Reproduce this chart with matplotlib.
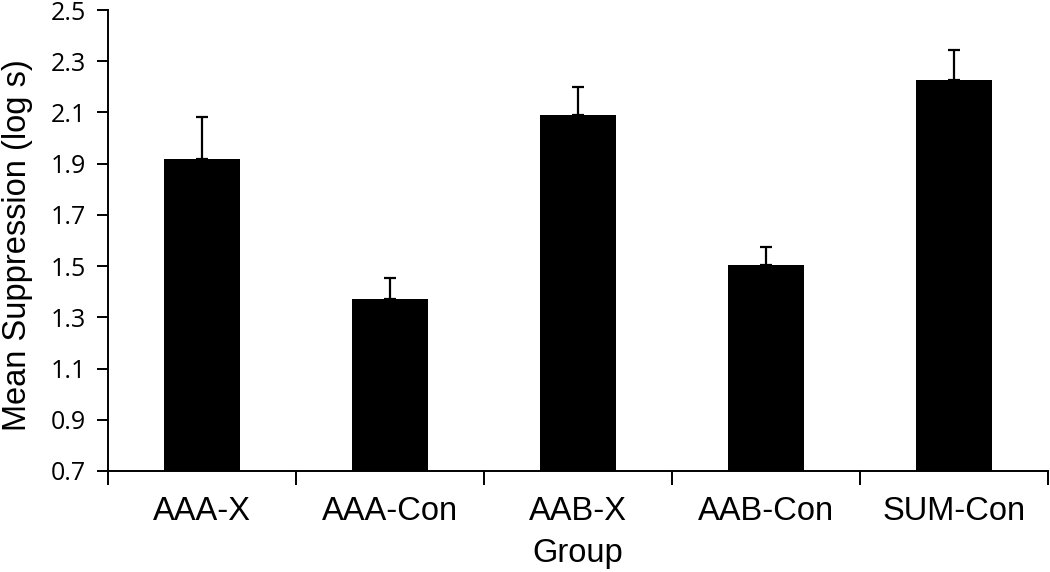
import numpy as np
import matplotlib.pyplot as plt

groups = ['AAA-X', 'AAA-Con', 'AAB-X', 'AAB-Con', 'SUM-Con']
means = [1.917, 1.370, 2.090, 1.505, 2.228]
errs = [0.167, 0.084, 0.108, 0.069, 0.116]

fig, ax = plt.subplots(figsize=(10.5, 5.72), dpi=100)
fig.subplots_adjust(left=0.1029, right=0.998, top=0.9825, bottom=0.1766)

x = np.arange(len(groups))
ax.bar(x, np.array(means) - 0.7, bottom=0.7, width=0.4, color='black', zorder=2)
ax.errorbar(x, means, yerr=[np.zeros(len(errs)), errs], fmt='none',
            ecolor='black', elinewidth=1.6, capsize=4, capthick=1.6, zorder=3)

ax.set_xlim(-0.5, len(groups) - 0.5)
ax.set_ylim(0.7, 2.5)
ax.set_yticks(np.arange(0.7, 2.51, 0.2))
ax.set_yticklabels([f'{v:.1f}' for v in np.arange(0.7, 2.51, 0.2)],
                   fontfamily='Open Sans', fontsize=18)
ax.set_xticks(x)
ax.set_xticklabels(groups, fontfamily='Liberation Sans', fontsize=23.5)
ax.set_xticks(np.arange(-0.5, len(groups)), minor=True)

ax.tick_params(axis='x', which='major', length=0, pad=18)
ax.tick_params(axis='x', which='minor', length=10, width=1.4, direction='out')
ax.tick_params(axis='y', length=8, width=1.4, direction='out', pad=8)

for side in ['top', 'right']:
    ax.spines[side].set_visible(False)
for side in ['left', 'bottom']:
    ax.spines[side].set_linewidth(1.4)

ax.set_ylabel('Mean Suppression (log s)', fontfamily='Liberation Sans', fontsize=23.5)
ax.yaxis.set_label_coords(-0.080, 0.49)
ax.set_xlabel('Group', fontfamily='Liberation Sans', fontsize=23.5, labelpad=8)

fig.savefig('out.png', dpi=100)
